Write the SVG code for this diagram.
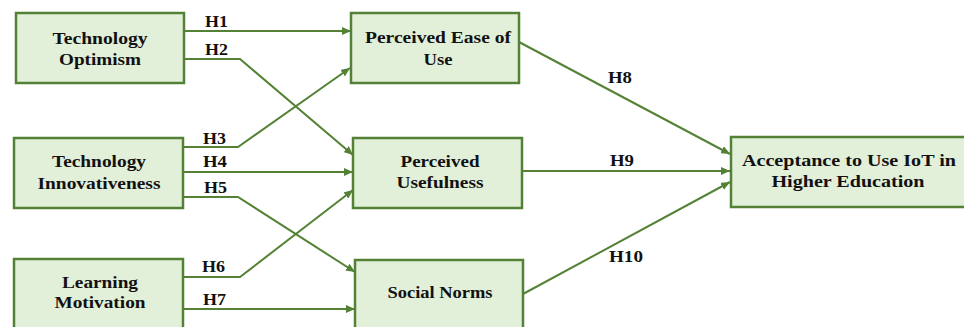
<svg xmlns="http://www.w3.org/2000/svg" width="964" height="327" viewBox="0 0 964 327">
<style>
.box{fill:#e2efd9;stroke:#538135;stroke-width:2.5}
.t{font-family:"Liberation Serif","Times New Roman",serif;font-weight:bold;font-size:16.5px;fill:#111;text-anchor:middle}
.h{font-family:"Liberation Serif","Times New Roman",serif;font-weight:bold;font-size:16.5px;fill:#111}
.c{fill:none;stroke:#548235;stroke-width:2;marker-end:url(#ah)}
</style>
<defs>
<marker id="ah" markerUnits="userSpaceOnUse" markerWidth="9" markerHeight="8" refX="9" refY="4" orient="auto">
<path d="M0,0 L9,4 L0,8 z" fill="#548235"/>
</marker>
</defs>
<rect width="964" height="327" fill="#fff"/>
<g id="connectors">
<path class="c" d="M184,31 H351"/>
<path class="c" d="M184,59 H240 L353,155"/>
<path class="c" d="M183,147 H238 L350,68"/>
<path class="c" d="M183,172 H353"/>
<path class="c" d="M183,197 H238 L355,272"/>
<path class="c" d="M183,277 H240 L353,190"/>
<path class="c" d="M183,309 H355"/>
<path class="c" d="M519,42 L730,154"/>
<path class="c" d="M522,171 H730"/>
<path class="c" d="M523,294 L730,182"/>
<text class="h" x="205" y="27" textLength="23" lengthAdjust="spacingAndGlyphs">H1</text>
<text class="h" x="205" y="55" textLength="23" lengthAdjust="spacingAndGlyphs">H2</text>
<text class="h" x="203" y="144" textLength="23" lengthAdjust="spacingAndGlyphs">H3</text>
<text class="h" x="203" y="167" textLength="24" lengthAdjust="spacingAndGlyphs">H4</text>
<text class="h" x="204" y="193" textLength="23" lengthAdjust="spacingAndGlyphs">H5</text>
<text class="h" x="202" y="272" textLength="23" lengthAdjust="spacingAndGlyphs">H6</text>
<text class="h" x="203" y="305" textLength="23" lengthAdjust="spacingAndGlyphs">H7</text>
<text class="h" x="608" y="83" textLength="24" lengthAdjust="spacingAndGlyphs">H8</text>
<text class="h" x="610" y="166" textLength="24" lengthAdjust="spacingAndGlyphs">H9</text>
<text class="h" x="609" y="262" textLength="34" lengthAdjust="spacingAndGlyphs">H10</text>
</g>
<g id="technology-optimism">
<rect class="box" x="16" y="13" width="168" height="70"/>
<text class="t" x="100" y="44" textLength="95" lengthAdjust="spacingAndGlyphs">Technology</text>
<text class="t" x="100" y="65" textLength="82" lengthAdjust="spacingAndGlyphs">Optimism</text>
</g>
<g id="technology-innovativeness">
<rect class="box" x="14" y="138" width="169" height="70"/>
<text class="t" x="99" y="167" textLength="94" lengthAdjust="spacingAndGlyphs">Technology</text>
<text class="t" x="99" y="189" textLength="123" lengthAdjust="spacingAndGlyphs">Innovativeness</text>
</g>
<g id="learning-motivation">
<rect class="box" x="14" y="259" width="169" height="80"/>
<text class="t" x="100" y="288" textLength="76" lengthAdjust="spacingAndGlyphs">Learning</text>
<text class="t" x="100" y="308" textLength="91" lengthAdjust="spacingAndGlyphs">Motivation</text>
</g>
<g id="perceived-ease-of-use">
<rect class="box" x="351" y="13" width="168" height="70"/>
<text class="t" x="438" y="43" textLength="146" lengthAdjust="spacingAndGlyphs">Perceived Ease of</text>
<text class="t" x="438" y="65" textLength="29" lengthAdjust="spacingAndGlyphs">Use</text>
</g>
<g id="perceived-usefulness">
<rect class="box" x="353" y="138" width="169" height="70"/>
<text class="t" x="440" y="167" textLength="79" lengthAdjust="spacingAndGlyphs">Perceived</text>
<text class="t" x="440" y="188" textLength="87" lengthAdjust="spacingAndGlyphs">Usefulness</text>
</g>
<g id="social-norms">
<rect class="box" x="355" y="260" width="168" height="80"/>
<text class="t" x="440" y="298" textLength="105" lengthAdjust="spacingAndGlyphs">Social Norms</text>
</g>
<g id="acceptance">
<rect class="box" x="731" y="137" width="240" height="70"/>
<text class="t" x="849" y="166" textLength="214" lengthAdjust="spacingAndGlyphs">Acceptance to Use IoT in</text>
<text class="t" x="848" y="187" textLength="153" lengthAdjust="spacingAndGlyphs">Higher Education</text>
</g>
</svg>
